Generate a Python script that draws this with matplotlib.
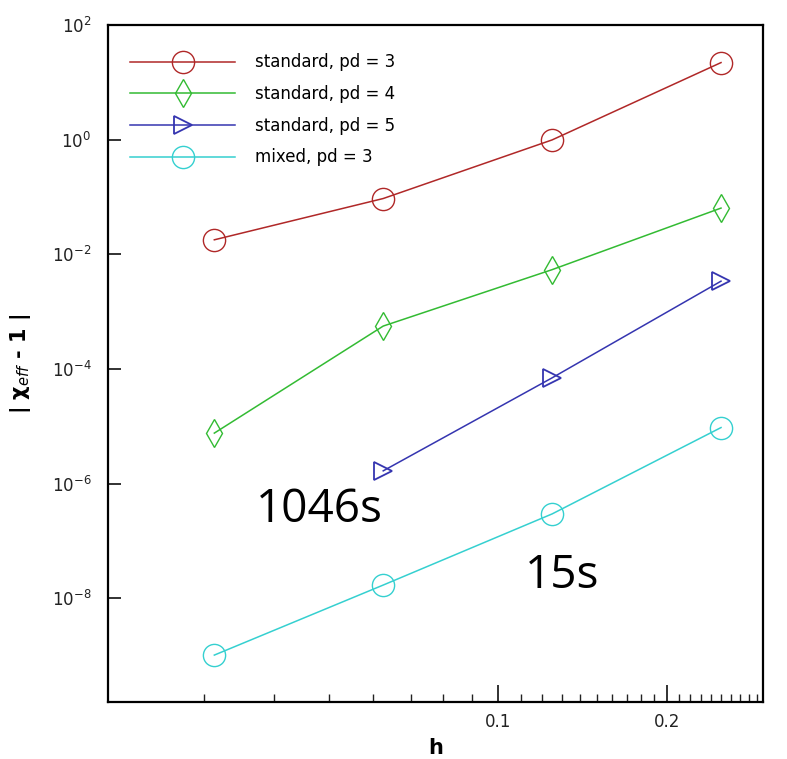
import numpy as np
from matplotlib import pyplot as plt
from matplotlib.ticker import FixedLocator, FixedFormatter, NullFormatter, NullLocator

h = [1/32, 1/16, 1/8, 1/4]

std_pd3 = [1.79e-2, 9.4e-2, 0.99, 22.1]
std_pd4 = [7.6e-6, 5.6e-4, 5.4e-3, 6.4e-2]
h_pd5 = [1/16, 1/8, 1/4]
std_pd5 = [1.67e-6, 7.0e-5, 3.4e-3]
mixed_pd3 = [1.02e-9, 1.7e-8, 2.96e-7, 9.5e-6]

labels = ['standard, pd = 3', 'standard, pd = 4', 'standard, pd = 5', 'mixed, pd = 3']

x_major = [0.1, 0.2, 0.3]
x_major_labels = ['0.1', '0.2', '0.3']
x_minor = list(np.arange(0.03, 0.095, 0.01)) + list(np.arange(0.11, 0.195, 0.01)) + list(np.arange(0.21, 0.295, 0.01))
y_major = [1e-8, 1e-6, 1e-4, 1e-2, 1e0, 1e2]

fig = plt.figure(figsize=(7.87, 7.59), dpi=100)
ax = fig.add_axes([108/787, 57/759, 655/787, 677/759])

ax.plot(h, std_pd3, color='#b02828', lw=1.1, marker='o', ms=16, mfc='none', mew=1.0, label=labels[0])
ax.plot(h, std_pd4, color='#33bb33', lw=1.1, marker='d', ms=14, mfc='none', mew=1.0, label=labels[1])
ax.plot(h_pd5, std_pd5, color='#3535b0', lw=1.1, marker='>', ms=13, mfc='none', mew=1.3, label=labels[2])
ax.plot(h, mixed_pd3, color='#35d0d0', lw=1.1, marker='o', ms=16, mfc='none', mew=1.0, label=labels[3])

ax.set_xscale('log')
ax.set_yscale('log')
ax.set_xlim(0.0202, 0.297)
ax.set_ylim(1.55e-10, 1e2)

ax.xaxis.set_major_locator(FixedLocator(x_major))
ax.xaxis.set_major_formatter(FixedFormatter(x_major_labels))
ax.xaxis.set_minor_locator(FixedLocator(x_minor))
ax.xaxis.set_minor_formatter(NullFormatter())
ax.yaxis.set_major_locator(FixedLocator(y_major))
ax.yaxis.set_minor_locator(NullLocator())

ax.tick_params(axis='both', which='both', direction='in', top=False, right=False, labelsize=12, colors='#222222')
ax.tick_params(axis='x', which='major', length=12, width=1.3, pad=8)
ax.tick_params(axis='x', which='minor', length=6, width=1.0)
ax.tick_params(axis='y', which='major', length=9, width=1.3, pad=12)

for s in ax.spines.values():
    s.set_linewidth(1.6)

ax.set_xlabel('h', fontsize=15, fontweight='bold')
ax.xaxis.set_label_coords(0.5, -0.053)
ax.set_ylabel('| χ$_{eff}$ - 1 |', fontsize=15, fontweight='bold')
ax.yaxis.set_label_coords(-0.115, 0.5)

ax.legend(loc='upper left', bbox_to_anchor=(0.0336, 0.958), frameon=False, fontsize=12,
          handlelength=6.3, handletextpad=1.2, labelspacing=0.82, borderaxespad=0, borderpad=0)

ax.text(0.037, 2.1e-7, '1046s', fontsize=33, family='Open Sans', ha='left', va='baseline')
ax.text(0.112, 1.49e-8, '15s', fontsize=33, family='Open Sans', ha='left', va='baseline')

plt.savefig('out.png', dpi=100)
